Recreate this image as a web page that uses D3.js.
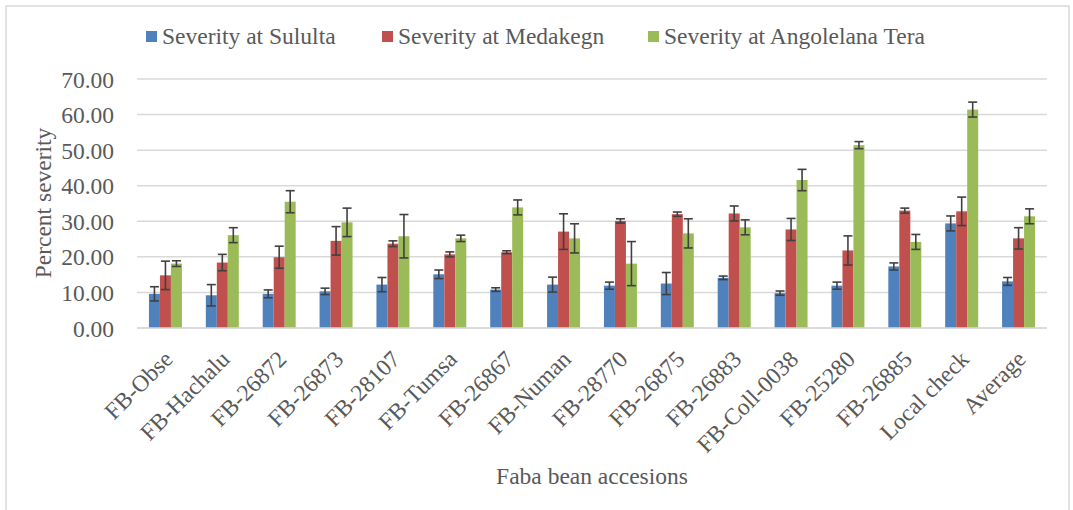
<!DOCTYPE html>
<html>
<head>
<meta charset="utf-8">
<script src="https://cdn.jsdelivr.net/npm/d3@7"></script>
<style>
  body { margin: 0; background: #fff; }
  text { font-family: "Liberation Serif", "Times New Roman", serif; fill: #595959; }
</style>
</head>
<body>
<div id="chart"></div>
<script>
// accessions on the x axis
const categories = ["FB-Obse", "FB-Hachalu", "FB-26872", "FB-26873", "FB-28107", "FB-Tumsa",
    "FB-26867", "FB-Numan", "FB-28770", "FB-26875", "FB-26883", "FB-Coll-0038",
    "FB-25280", "FB-26885", "Local check", "Average"];

const series_names = ["Severity at Sululta", "Severity at Medakegn", "Severity at Angolelana Tera"];
const series_colors = ["#4F81BD", "#C0504D", "#9BBB59"];

const sululta = [9.6, 9.2, 9.6, 10.3, 12.2, 15.1, 10.8, 12.2, 11.9, 12.5, 14.1, 9.8, 11.9, 17.3, 29.4, 13.1];
const medakegn = [14.8, 18.4, 19.9, 24.5, 23.7, 20.7, 21.3, 27.1, 30.1, 32.0, 32.2, 27.7, 21.8, 33.0, 32.8, 25.2];
const angolelana = [18.1, 26.1, 35.5, 29.7, 25.8, 25.2, 33.9, 25.2, 18.1, 26.6, 28.3, 41.6, 51.4, 24.2, 61.4, 31.4];

// +/- error amounts
const sululta_err = [2.0, 3.0, 1.1, 0.9, 2.0, 1.2, 0.5, 2.1, 1.0, 3.1, 0.5, 0.6, 1.0, 1.0, 2.1, 1.1];
const medakegn_err = [4.0, 2.3, 3.1, 4.0, 0.8, 0.7, 0.4, 5.0, 0.6, 0.6, 2.1, 3.1, 4.1, 0.7, 4.0, 3.0];
const angolelana_err = [0.8, 2.1, 3.1, 4.0, 6.1, 0.9, 2.1, 4.1, 6.2, 4.1, 2.1, 3.0, 1.0, 2.1, 2.1, 2.1];

const y_ticks = [0, 10, 20, 30, 40, 50, 60, 70];

const W = 1073, H = 510;
const plot = { left: 137, right: 1047, top: 79, bottom: 328 };

const values = [sululta, medakegn, angolelana];
const errors = [sululta_err, medakegn_err, angolelana_err];

const rows = categories.map((c, i) => ({
    cat: c,
    bars: series_names.map((s, k) => ({ series: s, k: k, v: values[k][i], e: errors[k][i] }))
}));

const svg = d3.select("#chart").append("svg")
    .attr("width", W).attr("height", H);

// chart frame
svg.append("rect")
    .attr("x", 6).attr("y", 6).attr("width", 1063).attr("height", H + 10)
    .attr("fill", "none").attr("stroke", "#d9d9d9").attr("stroke-width", 1.5);

const x0 = d3.scaleBand().domain(categories)
    .range([plot.left, plot.right]).paddingInner(0.42).paddingOuter(0.21);
const x1 = d3.scaleBand().domain(series_names).range([0, x0.bandwidth()]);
const y = d3.scaleLinear().domain([0, 70]).range([plot.bottom, plot.top]);

// gridlines
svg.append("g").selectAll("line").data(y_ticks).join("line")
    .attr("x1", plot.left).attr("x2", plot.right)
    .attr("y1", d => y(d)).attr("y2", d => y(d))
    .attr("stroke", "#d9d9d9").attr("stroke-width", 1.5);

// y axis labels
const yAxis = svg.append("g")
    .attr("transform", `translate(${plot.left - 20},0)`)
    .call(d3.axisLeft(y).tickValues(y_ticks).tickFormat(d3.format(".2f")).tickSize(0));
yAxis.select(".domain").remove();
yAxis.selectAll("text")
    .style("font-family", '"Liberation Serif", serif')
    .style("font-size", "23.5px").attr("fill", "#595959").attr("dy", "0.34em");

// bars
const groups = svg.append("g").selectAll("g").data(rows).join("g")
    .attr("transform", d => `translate(${x0(d.cat)},0)`);

groups.selectAll("rect").data(d => d.bars).join("rect")
    .attr("x", d => x1(d.series))
    .attr("y", d => y(d.v))
    .attr("width", x1.bandwidth())
    .attr("height", d => y(0) - y(d.v))
    .attr("fill", d => series_colors[d.k]);

// error bars
const cap = 4.5;
const eb = groups.selectAll("g.err").data(d => d.bars).join("g").attr("class", "err")
    .attr("stroke", "#404040").attr("stroke-width", 1.6);
eb.append("line")
    .attr("x1", d => x1(d.series) + x1.bandwidth() / 2)
    .attr("x2", d => x1(d.series) + x1.bandwidth() / 2)
    .attr("y1", d => y(d.v + d.e)).attr("y2", d => y(d.v - d.e));
eb.append("line")
    .attr("x1", d => x1(d.series) + x1.bandwidth() / 2 - cap)
    .attr("x2", d => x1(d.series) + x1.bandwidth() / 2 + cap)
    .attr("y1", d => y(d.v + d.e)).attr("y2", d => y(d.v + d.e));
eb.append("line")
    .attr("x1", d => x1(d.series) + x1.bandwidth() / 2 - cap)
    .attr("x2", d => x1(d.series) + x1.bandwidth() / 2 + cap)
    .attr("y1", d => y(d.v - d.e)).attr("y2", d => y(d.v - d.e));

// x axis line
svg.append("line")
    .attr("x1", plot.left).attr("x2", plot.right)
    .attr("y1", y(0)).attr("y2", y(0))
    .attr("stroke", "#d9d9d9").attr("stroke-width", 1.5);

// x tick labels, rotated
svg.append("g").selectAll("text").data(categories).join("text")
    .attr("transform", d => `translate(${x0(d) + x0.bandwidth() / 2 - 3},${plot.bottom + 21}) rotate(-45)`)
    .attr("text-anchor", "end")
    .attr("dy", "0.7em")
    .style("font-size", "23.5px")
    .text(d => d);

// axis titles
svg.append("text")
    .attr("transform", `translate(51,203) rotate(-90)`)
    .attr("text-anchor", "middle")
    .style("font-size", "23.5px")
    .text("Percent severity");

svg.append("text")
    .attr("x", 592).attr("y", 484)
    .attr("text-anchor", "middle")
    .style("font-size", "23.5px")
    .text("Faba bean accesions");

// legend
const legend_x = [146, 382, 648];
const lg = svg.append("g").selectAll("g").data(series_names).join("g")
    .attr("transform", (d, i) => `translate(${legend_x[i]},0)`);
lg.append("rect")
    .attr("x", 0).attr("y", 31).attr("width", 11).attr("height", 11)
    .attr("fill", (d, i) => series_colors[i]);
lg.append("text")
    .attr("x", 16).attr("y", 44)
    .style("font-size", "23.5px")
    .text(d => d);
</script>
</body>
</html>
